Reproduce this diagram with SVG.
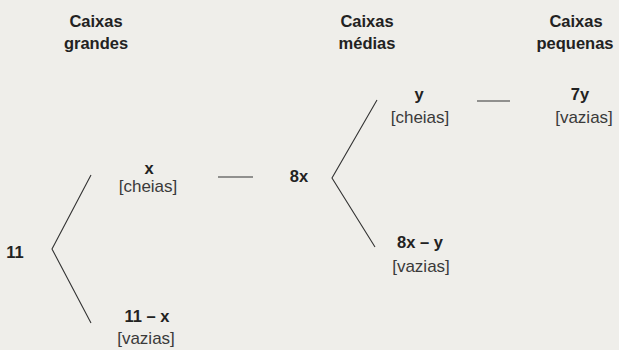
<svg xmlns="http://www.w3.org/2000/svg" width="619" height="350" viewBox="0 0 619 350">
<style>
.h{font-family:"Liberation Sans",Arial,sans-serif;font-size:16.5px;font-weight:bold;fill:#222;text-anchor:middle}
.b{font-family:"Liberation Sans",Arial,sans-serif;font-size:16.5px;font-weight:bold;fill:#222;text-anchor:middle}
.r{font-family:"Liberation Sans",Arial,sans-serif;font-size:17px;fill:#3a3a3a;text-anchor:middle}
.l{stroke:#333;stroke-width:1.1;fill:none}
</style>
<rect width="619" height="350" fill="#efeeea"/>
<g id="headers">
<text class="h" x="96" y="27">Caixas</text>
<text class="h" x="96" y="49">grandes</text>
<text class="h" x="367" y="27">Caixas</text>
<text class="h" x="367" y="49">médias</text>
<text class="h" x="576" y="27">Caixas</text>
<text class="h" x="575" y="49">pequenas</text>
</g>
<g id="n11"><text class="b" x="15" y="258">11</text></g>
<g id="nx"><text class="b" x="149" y="174">x</text><text class="r" x="148" y="192">[cheias]</text></g>
<g id="n11x"><text class="b" x="147" y="322">11 – x</text><text class="r" x="146" y="344">[vazias]</text></g>
<g id="n8x"><text class="b" x="299" y="182">8x</text></g>
<g id="ny"><text class="b" x="419" y="100">y</text><text class="r" x="420" y="123">[cheias]</text></g>
<g id="n8xy"><text class="b" x="420" y="248">8x – y</text><text class="r" x="421" y="272">[vazias]</text></g>
<g id="n7y"><text class="b" x="580" y="100">7y</text><text class="r" x="584" y="123">[vazias]</text></g>
<g id="connectors">
<polyline class="l" points="91,175 52,249 91,323"/>
<polyline class="l" points="377,100 332,178 375,247"/>
<line class="l" x1="218" y1="177" x2="253" y2="177"/>
<line class="l" x1="477" y1="101" x2="510" y2="101"/>
</g>
</svg>
